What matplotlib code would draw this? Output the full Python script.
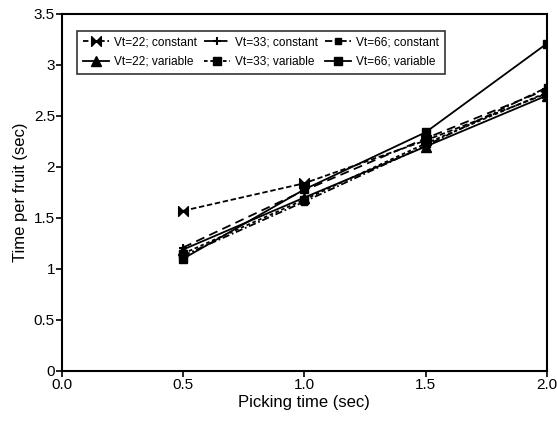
import numpy as np
import matplotlib
matplotlib.use("Agg")
import matplotlib.pyplot as plt
from matplotlib.path import Path

plt.rcParams['font.family'] = ['Liberation Sans', 'DejaVu Sans']

picking_time = [0.5, 1.0, 1.5, 2.0]

vt22_constant = [1.57, 1.84, 2.26, 2.72]
vt33_constant = [1.21, 1.77, 2.28, 2.76]
vt66_constant = [1.13, 1.66, 2.21, 2.78]
vt22_variable = [1.19, 1.70, 2.20, 2.70]
vt33_variable = [1.15, 1.68, 2.23, 2.73]
vt66_variable = [1.10, 1.78, 2.34, 3.21]

labels = ["Vt=22; constant", "Vt=33; constant", "Vt=66; constant",
          "Vt=22; variable", "Vt=33; variable", "Vt=66; variable"]

bowtie = Path([(-1, 1), (1, -1), (1, 1), (-1, -1), (-1, 1)],
              [Path.MOVETO, Path.LINETO, Path.LINETO, Path.LINETO, Path.CLOSEPOLY])

fig = plt.figure(figsize=(5.57, 4.22), dpi=100)
ax = fig.add_axes([0.111, 0.121, 0.871, 0.846])

series = [
    (vt22_constant, dict(ls=(0, (3, 1.5)), marker=bowtie, ms=7)),
    (vt33_constant, dict(ls=(0, (5, 3)), marker='+', ms=6, mew=1.5)),
    (vt66_constant, dict(ls=(0, (4, 1.5, 1, 1.5)), marker='s', ms=5)),
    (vt22_variable, dict(ls='-', marker='^', ms=7)),
    (vt33_variable, dict(ls=(0, (2, 1.5)), marker='s', ms=6)),
    (vt66_variable, dict(ls='-', marker='s', ms=6)),
]

handles = []
for vals, style in series:
    h, = ax.plot(picking_time, vals, color='black', lw=1.3, mfc='black', mec='black', **style)
    handles.append(h)

ax.set_xlim(0, 2.0)
ax.set_ylim(0, 3.5)
ax.set_xticks([0.0, 0.5, 1.0, 1.5, 2.0])
ax.set_xticklabels(["0.0", "0.5", "1.0", "1.5", "2.0"])
ax.set_yticks([0, 0.5, 1, 1.5, 2, 2.5, 3, 3.5])
ax.set_yticklabels(["0", "0.5", "1", "1.5", "2", "2.5", "3", "3.5"])
ax.tick_params(direction='out', length=4, width=1.2, labelsize=11, pad=1)
for s in ax.spines.values():
    s.set_linewidth(1.5)

ax.set_xlabel("Picking time (sec)", fontsize=12, labelpad=2)
ax.set_ylabel("Time per fruit (sec)", fontsize=12, labelpad=4)

# legend fills column by column, so reorder to read row by row
order = [0, 3, 1, 4, 2, 5]
leg = ax.legend([handles[i] for i in order], [labels[i] for i in order],
                ncol=3, loc='upper left', bbox_to_anchor=(0.018, 0.97),
                fontsize=8.6, frameon=True, fancybox=False, edgecolor='black',
                handlelength=2.2, handletextpad=0.4, columnspacing=0.6,
                borderpad=0.5, labelspacing=0.6)
leg.get_frame().set_linewidth(1.2)

fig.savefig("out.png", dpi=100)
